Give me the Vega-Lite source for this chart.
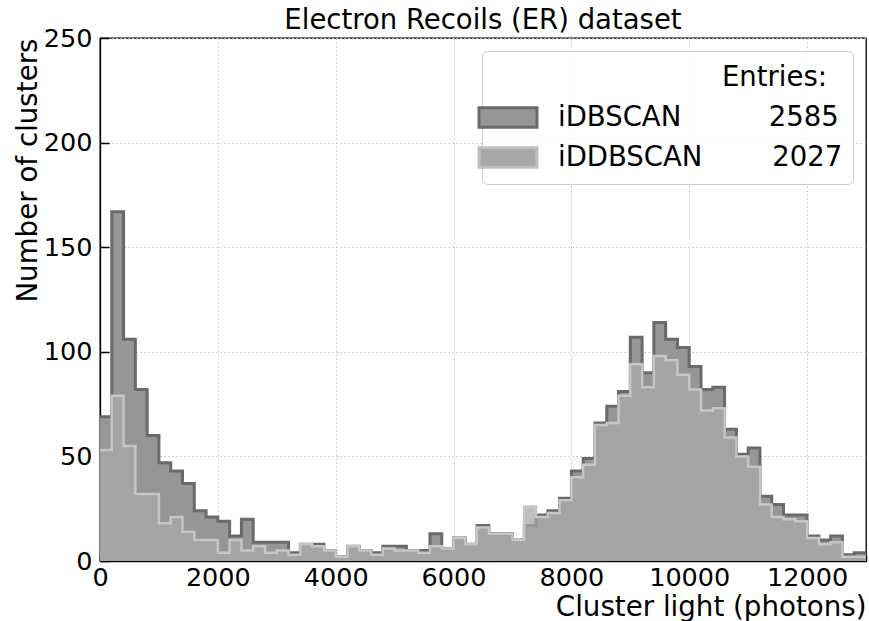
{
  "$schema": "https://vega.github.io/schema/vega-lite/v6.json",
  "width": 766,
  "height": 523,
  "autosize": {"type": "none"},
  "padding": {"left": 100, "top": 38, "right": 3, "bottom": 60},
  "background": "white",
  "config": {
    "font": "DejaVu Sans",
    "view": {"stroke": "black", "strokeWidth": 1.3},
    "axis": {
      "domainColor": "black",
      "domainWidth": 1.3,
      "tickColor": "black",
      "tickWidth": 1.5,
      "labelColor": "black",
      "labelFontSize": 25.5,
      "labelFont": "DejaVu Sans",
      "titleFont": "DejaVu Sans",
      "titleFontSize": 27.7,
      "titleFontWeight": "normal",
      "titleColor": "black",
      "gridColor": "#c4c4c4",
      "gridDash": [1.5, 2.5],
      "gridWidth": 1
    }
  },
  "title": {
    "text": "Electron Recoils (ER) dataset",
    "fontSize": 27.5,
    "fontWeight": "normal",
    "font": "DejaVu Sans",
    "color": "black",
    "anchor": "middle",
    "baseline": "alphabetic",
    "offset": -30
  },
  "datasets": {
    "h": [
      {"s":"iDBSCAN","lo":0,"hi":200,"n":69},{"s":"iDBSCAN","lo":200,"hi":400,"n":167},{"s":"iDBSCAN","lo":400,"hi":600,"n":106},{"s":"iDBSCAN","lo":600,"hi":800,"n":82},{"s":"iDBSCAN","lo":800,"hi":1000,"n":60},
      {"s":"iDBSCAN","lo":1000,"hi":1200,"n":47},{"s":"iDBSCAN","lo":1200,"hi":1400,"n":43},{"s":"iDBSCAN","lo":1400,"hi":1600,"n":37},{"s":"iDBSCAN","lo":1600,"hi":1800,"n":24},{"s":"iDBSCAN","lo":1800,"hi":2000,"n":21},
      {"s":"iDBSCAN","lo":2000,"hi":2200,"n":19},{"s":"iDBSCAN","lo":2200,"hi":2400,"n":12},{"s":"iDBSCAN","lo":2400,"hi":2600,"n":20},{"s":"iDBSCAN","lo":2600,"hi":2800,"n":9},{"s":"iDBSCAN","lo":2800,"hi":3000,"n":9},
      {"s":"iDBSCAN","lo":3000,"hi":3200,"n":9},{"s":"iDBSCAN","lo":3200,"hi":3400,"n":4},{"s":"iDBSCAN","lo":3400,"hi":3600,"n":8},{"s":"iDBSCAN","lo":3600,"hi":3800,"n":8},{"s":"iDBSCAN","lo":3800,"hi":4000,"n":5},
      {"s":"iDBSCAN","lo":4000,"hi":4200,"n":2},{"s":"iDBSCAN","lo":4200,"hi":4400,"n":7},{"s":"iDBSCAN","lo":4400,"hi":4600,"n":5},{"s":"iDBSCAN","lo":4600,"hi":4800,"n":4},{"s":"iDBSCAN","lo":4800,"hi":5000,"n":7},
      {"s":"iDBSCAN","lo":5000,"hi":5200,"n":7},{"s":"iDBSCAN","lo":5200,"hi":5400,"n":5},{"s":"iDBSCAN","lo":5400,"hi":5600,"n":5},{"s":"iDBSCAN","lo":5600,"hi":5800,"n":13},{"s":"iDBSCAN","lo":5800,"hi":6000,"n":6},
      {"s":"iDBSCAN","lo":6000,"hi":6200,"n":11},{"s":"iDBSCAN","lo":6200,"hi":6400,"n":8},{"s":"iDBSCAN","lo":6400,"hi":6600,"n":17},{"s":"iDBSCAN","lo":6600,"hi":6800,"n":13},{"s":"iDBSCAN","lo":6800,"hi":7000,"n":13},
      {"s":"iDBSCAN","lo":7000,"hi":7200,"n":10},{"s":"iDBSCAN","lo":7200,"hi":7400,"n":17},{"s":"iDBSCAN","lo":7400,"hi":7600,"n":22},{"s":"iDBSCAN","lo":7600,"hi":7800,"n":24},{"s":"iDBSCAN","lo":7800,"hi":8000,"n":30},
      {"s":"iDBSCAN","lo":8000,"hi":8200,"n":43},{"s":"iDBSCAN","lo":8200,"hi":8400,"n":49},{"s":"iDBSCAN","lo":8400,"hi":8600,"n":66},{"s":"iDBSCAN","lo":8600,"hi":8800,"n":74},{"s":"iDBSCAN","lo":8800,"hi":9000,"n":81},
      {"s":"iDBSCAN","lo":9000,"hi":9200,"n":107},{"s":"iDBSCAN","lo":9200,"hi":9400,"n":90},{"s":"iDBSCAN","lo":9400,"hi":9600,"n":114},{"s":"iDBSCAN","lo":9600,"hi":9800,"n":106},{"s":"iDBSCAN","lo":9800,"hi":10000,"n":102},
      {"s":"iDBSCAN","lo":10000,"hi":10200,"n":93},{"s":"iDBSCAN","lo":10200,"hi":10400,"n":82},{"s":"iDBSCAN","lo":10400,"hi":10600,"n":83},{"s":"iDBSCAN","lo":10600,"hi":10800,"n":63},{"s":"iDBSCAN","lo":10800,"hi":11000,"n":51},
      {"s":"iDBSCAN","lo":11000,"hi":11200,"n":54},{"s":"iDBSCAN","lo":11200,"hi":11400,"n":31},{"s":"iDBSCAN","lo":11400,"hi":11600,"n":27},{"s":"iDBSCAN","lo":11600,"hi":11800,"n":22},{"s":"iDBSCAN","lo":11800,"hi":12000,"n":22},
      {"s":"iDBSCAN","lo":12000,"hi":12200,"n":12},{"s":"iDBSCAN","lo":12200,"hi":12400,"n":10},{"s":"iDBSCAN","lo":12400,"hi":12600,"n":12},{"s":"iDBSCAN","lo":12600,"hi":12800,"n":3},{"s":"iDBSCAN","lo":12800,"hi":13000,"n":4},
      {"s":"iDDBSCAN","lo":0,"hi":200,"n":53},{"s":"iDDBSCAN","lo":200,"hi":400,"n":79},{"s":"iDDBSCAN","lo":400,"hi":600,"n":55},{"s":"iDDBSCAN","lo":600,"hi":800,"n":32},{"s":"iDDBSCAN","lo":800,"hi":1000,"n":32},
      {"s":"iDDBSCAN","lo":1000,"hi":1200,"n":18},{"s":"iDDBSCAN","lo":1200,"hi":1400,"n":21},{"s":"iDDBSCAN","lo":1400,"hi":1600,"n":14},{"s":"iDDBSCAN","lo":1600,"hi":1800,"n":10},{"s":"iDDBSCAN","lo":1800,"hi":2000,"n":10},
      {"s":"iDDBSCAN","lo":2000,"hi":2200,"n":4},{"s":"iDDBSCAN","lo":2200,"hi":2400,"n":10},{"s":"iDDBSCAN","lo":2400,"hi":2600,"n":5},{"s":"iDDBSCAN","lo":2600,"hi":2800,"n":7},{"s":"iDDBSCAN","lo":2800,"hi":3000,"n":4},
      {"s":"iDDBSCAN","lo":3000,"hi":3200,"n":5},{"s":"iDDBSCAN","lo":3200,"hi":3400,"n":3},{"s":"iDDBSCAN","lo":3400,"hi":3600,"n":8},{"s":"iDDBSCAN","lo":3600,"hi":3800,"n":7},{"s":"iDDBSCAN","lo":3800,"hi":4000,"n":5},
      {"s":"iDDBSCAN","lo":4000,"hi":4200,"n":2},{"s":"iDDBSCAN","lo":4200,"hi":4400,"n":7},{"s":"iDDBSCAN","lo":4400,"hi":4600,"n":5},{"s":"iDDBSCAN","lo":4600,"hi":4800,"n":3},{"s":"iDDBSCAN","lo":4800,"hi":5000,"n":6},
      {"s":"iDDBSCAN","lo":5000,"hi":5200,"n":5},{"s":"iDDBSCAN","lo":5200,"hi":5400,"n":5},{"s":"iDDBSCAN","lo":5400,"hi":5600,"n":4},{"s":"iDDBSCAN","lo":5600,"hi":5800,"n":7},{"s":"iDDBSCAN","lo":5800,"hi":6000,"n":6},
      {"s":"iDDBSCAN","lo":6000,"hi":6200,"n":11},{"s":"iDDBSCAN","lo":6200,"hi":6400,"n":8},{"s":"iDDBSCAN","lo":6400,"hi":6600,"n":16},{"s":"iDDBSCAN","lo":6600,"hi":6800,"n":13},{"s":"iDDBSCAN","lo":6800,"hi":7000,"n":13},
      {"s":"iDDBSCAN","lo":7000,"hi":7200,"n":10},{"s":"iDDBSCAN","lo":7200,"hi":7400,"n":26},{"s":"iDDBSCAN","lo":7400,"hi":7600,"n":21},{"s":"iDDBSCAN","lo":7600,"hi":7800,"n":23},{"s":"iDDBSCAN","lo":7800,"hi":8000,"n":29},
      {"s":"iDDBSCAN","lo":8000,"hi":8200,"n":40},{"s":"iDDBSCAN","lo":8200,"hi":8400,"n":46},{"s":"iDDBSCAN","lo":8400,"hi":8600,"n":65},{"s":"iDDBSCAN","lo":8600,"hi":8800,"n":66},{"s":"iDDBSCAN","lo":8800,"hi":9000,"n":79},
      {"s":"iDDBSCAN","lo":9000,"hi":9200,"n":94},{"s":"iDDBSCAN","lo":9200,"hi":9400,"n":83},{"s":"iDDBSCAN","lo":9400,"hi":9600,"n":98},{"s":"iDDBSCAN","lo":9600,"hi":9800,"n":96},{"s":"iDDBSCAN","lo":9800,"hi":10000,"n":89},
      {"s":"iDDBSCAN","lo":10000,"hi":10200,"n":82},{"s":"iDDBSCAN","lo":10200,"hi":10400,"n":72},{"s":"iDDBSCAN","lo":10400,"hi":10600,"n":73},{"s":"iDDBSCAN","lo":10600,"hi":10800,"n":59},{"s":"iDDBSCAN","lo":10800,"hi":11000,"n":50},
      {"s":"iDDBSCAN","lo":11000,"hi":11200,"n":45},{"s":"iDDBSCAN","lo":11200,"hi":11400,"n":27},{"s":"iDDBSCAN","lo":11400,"hi":11600,"n":21},{"s":"iDDBSCAN","lo":11600,"hi":11800,"n":20},{"s":"iDDBSCAN","lo":11800,"hi":12000,"n":19},
      {"s":"iDDBSCAN","lo":12000,"hi":12200,"n":11},{"s":"iDDBSCAN","lo":12200,"hi":12400,"n":8},{"s":"iDDBSCAN","lo":12400,"hi":12600,"n":9},{"s":"iDDBSCAN","lo":12600,"hi":12800,"n":2},{"s":"iDDBSCAN","lo":12800,"hi":13000,"n":2}
    ]
  },
  "data": {"name": "h"},
  "encoding": {
    "x": {
      "field": "edge",
      "type": "quantitative",
      "scale": {"domain": [0, 13000], "nice": false, "zero": false},
      "axis": {
        "title": "Cluster light (photons)",
        "values": [0,500,1000,1500,2000,2500,3000,3500,4000,4500,5000,5500,6000,6500,7000,7500,8000,8500,9000,9500,10000,10500,11000,11500,12000,12500,13000],
        "labelExpr": "datum.value % 2000 === 0 ? format(datum.value, 'd') : ''",
        "labelFlush": false,
        "labelPadding": 10,
        "tickSize": -6,
        "grid": true,
        "gridOpacity": {"condition": {"test": "datum.value % 2000 === 0", "value": 1}, "value": 0},
        "titleAnchor": "end",
        "titleAlign": "right",
        "titleBaseline": "alphabetic",
        "titleX": 766,
        "titleY": 54
      }
    },
    "y": {
      "field": "n",
      "type": "quantitative",
      "stack": null,
      "scale": {"domain": [0, 250], "nice": false},
      "axis": {
        "title": "Number of clusters",
        "values": [0,50,100,150,200,250],
        "tickSize": -9,
        "labelPadding": 17,
        "grid": true,
        "titleAnchor": "end",
        "titleAlign": "right",
        "titleAngle": 270,
        "titleBaseline": "alphabetic",
        "titleX": -64,
        "titleY": 0
      }
    },
    "order": [{"field": "edge", "type": "quantitative"}, {"field": "k", "type": "nominal"}]
  },
  "layer": [
    {
      "transform": [{"filter": "datum.s === 'iDBSCAN'"}, {"fold": ["lo", "hi"], "as": ["k", "edge"]}],
      "mark": {"type": "area", "interpolate": "linear"},
      "encoding": {
        "fill": {
          "field": "s",
          "type": "nominal",
          "scale": {"domain": ["iDBSCAN", "iDDBSCAN"], "range": ["#969696", "#a8a8a8"]},
          "legend": {
            "title": "Entries:",
            "orient": "top-right",
            "offset": 13,
            "padding": 10,
            "titleFontSize": 27.5,
            "titleFontWeight": "normal",
            "titleColor": "black",
            "titleFont": "DejaVu Sans",
            "titleAnchor": "end",
            "titlePadding": 13,
            "labelFontSize": 27.5,
            "labelFont": "DejaVu Sans",
            "labelColor": "black",
            "labelLimit": 0,
            "labelOffset": 34,
            "labelExpr": "datum.label === 'iDBSCAN' ? 'iDBSCAN\u00a0\u00a0\u00a0\u00a0\u00a0\u00a0\u00a0\u00a0\u00a0\u00a02585' : 'iDDBSCAN\u00a0\u00a0\u00a0\u00a0\u00a0\u00a0\u00a0\u00a02027'",
            "symbolType": "M-2,-0.68H2V0.68H-2Z",
            "symbolSize": 841,
            "symbolOffset": 0,
            "rowPadding": 8,
            "strokeColor": "#cccccc",
            "fillColor": "rgba(255,255,255,0.85)",
            "cornerRadius": 5,
            "encode": {
              "title": {"update": {"dx": {"value": -15}, "dy": {"value": 3}}},
              "symbols": {
                "update": {
                  "fill": {"signal": "datum.value === 'iDBSCAN' ? '#969696' : '#bebebe'"},
                  "stroke": {"signal": "datum.value === 'iDBSCAN' ? '#6a6a6a' : '#bebebe'"},
                  "strokeWidth": {"value": 3},
                  "opacity": {"value": 1},
                  "fillOpacity": {"value": 1}
                }
              }
            }
          }
        }
      }
    },
    {
      "transform": [{"filter": "datum.s === 'iDBSCAN'"}, {"fold": ["lo", "hi"], "as": ["k", "edge"]}],
      "mark": {"type": "line", "interpolate": "linear", "color": "#6a6a6a", "strokeWidth": 3, "strokeJoin": "miter", "strokeCap": "butt"},
      "encoding": {}
    },
    {
      "transform": [{"filter": "datum.s === 'iDDBSCAN'"}, {"fold": ["lo", "hi"], "as": ["k", "edge"]}],
      "mark": {"type": "area", "interpolate": "linear", "color": "#a8a8a8", "opacity": 0.75},
      "encoding": {}
    },
    {
      "transform": [{"filter": "datum.s === 'iDDBSCAN'"}, {"fold": ["lo", "hi"], "as": ["k", "edge"]}],
      "mark": {"type": "line", "interpolate": "linear", "color": "#c6c6c6", "strokeWidth": 2.5, "strokeJoin": "miter", "strokeCap": "butt"},
      "encoding": {}
    }
  ]
}
